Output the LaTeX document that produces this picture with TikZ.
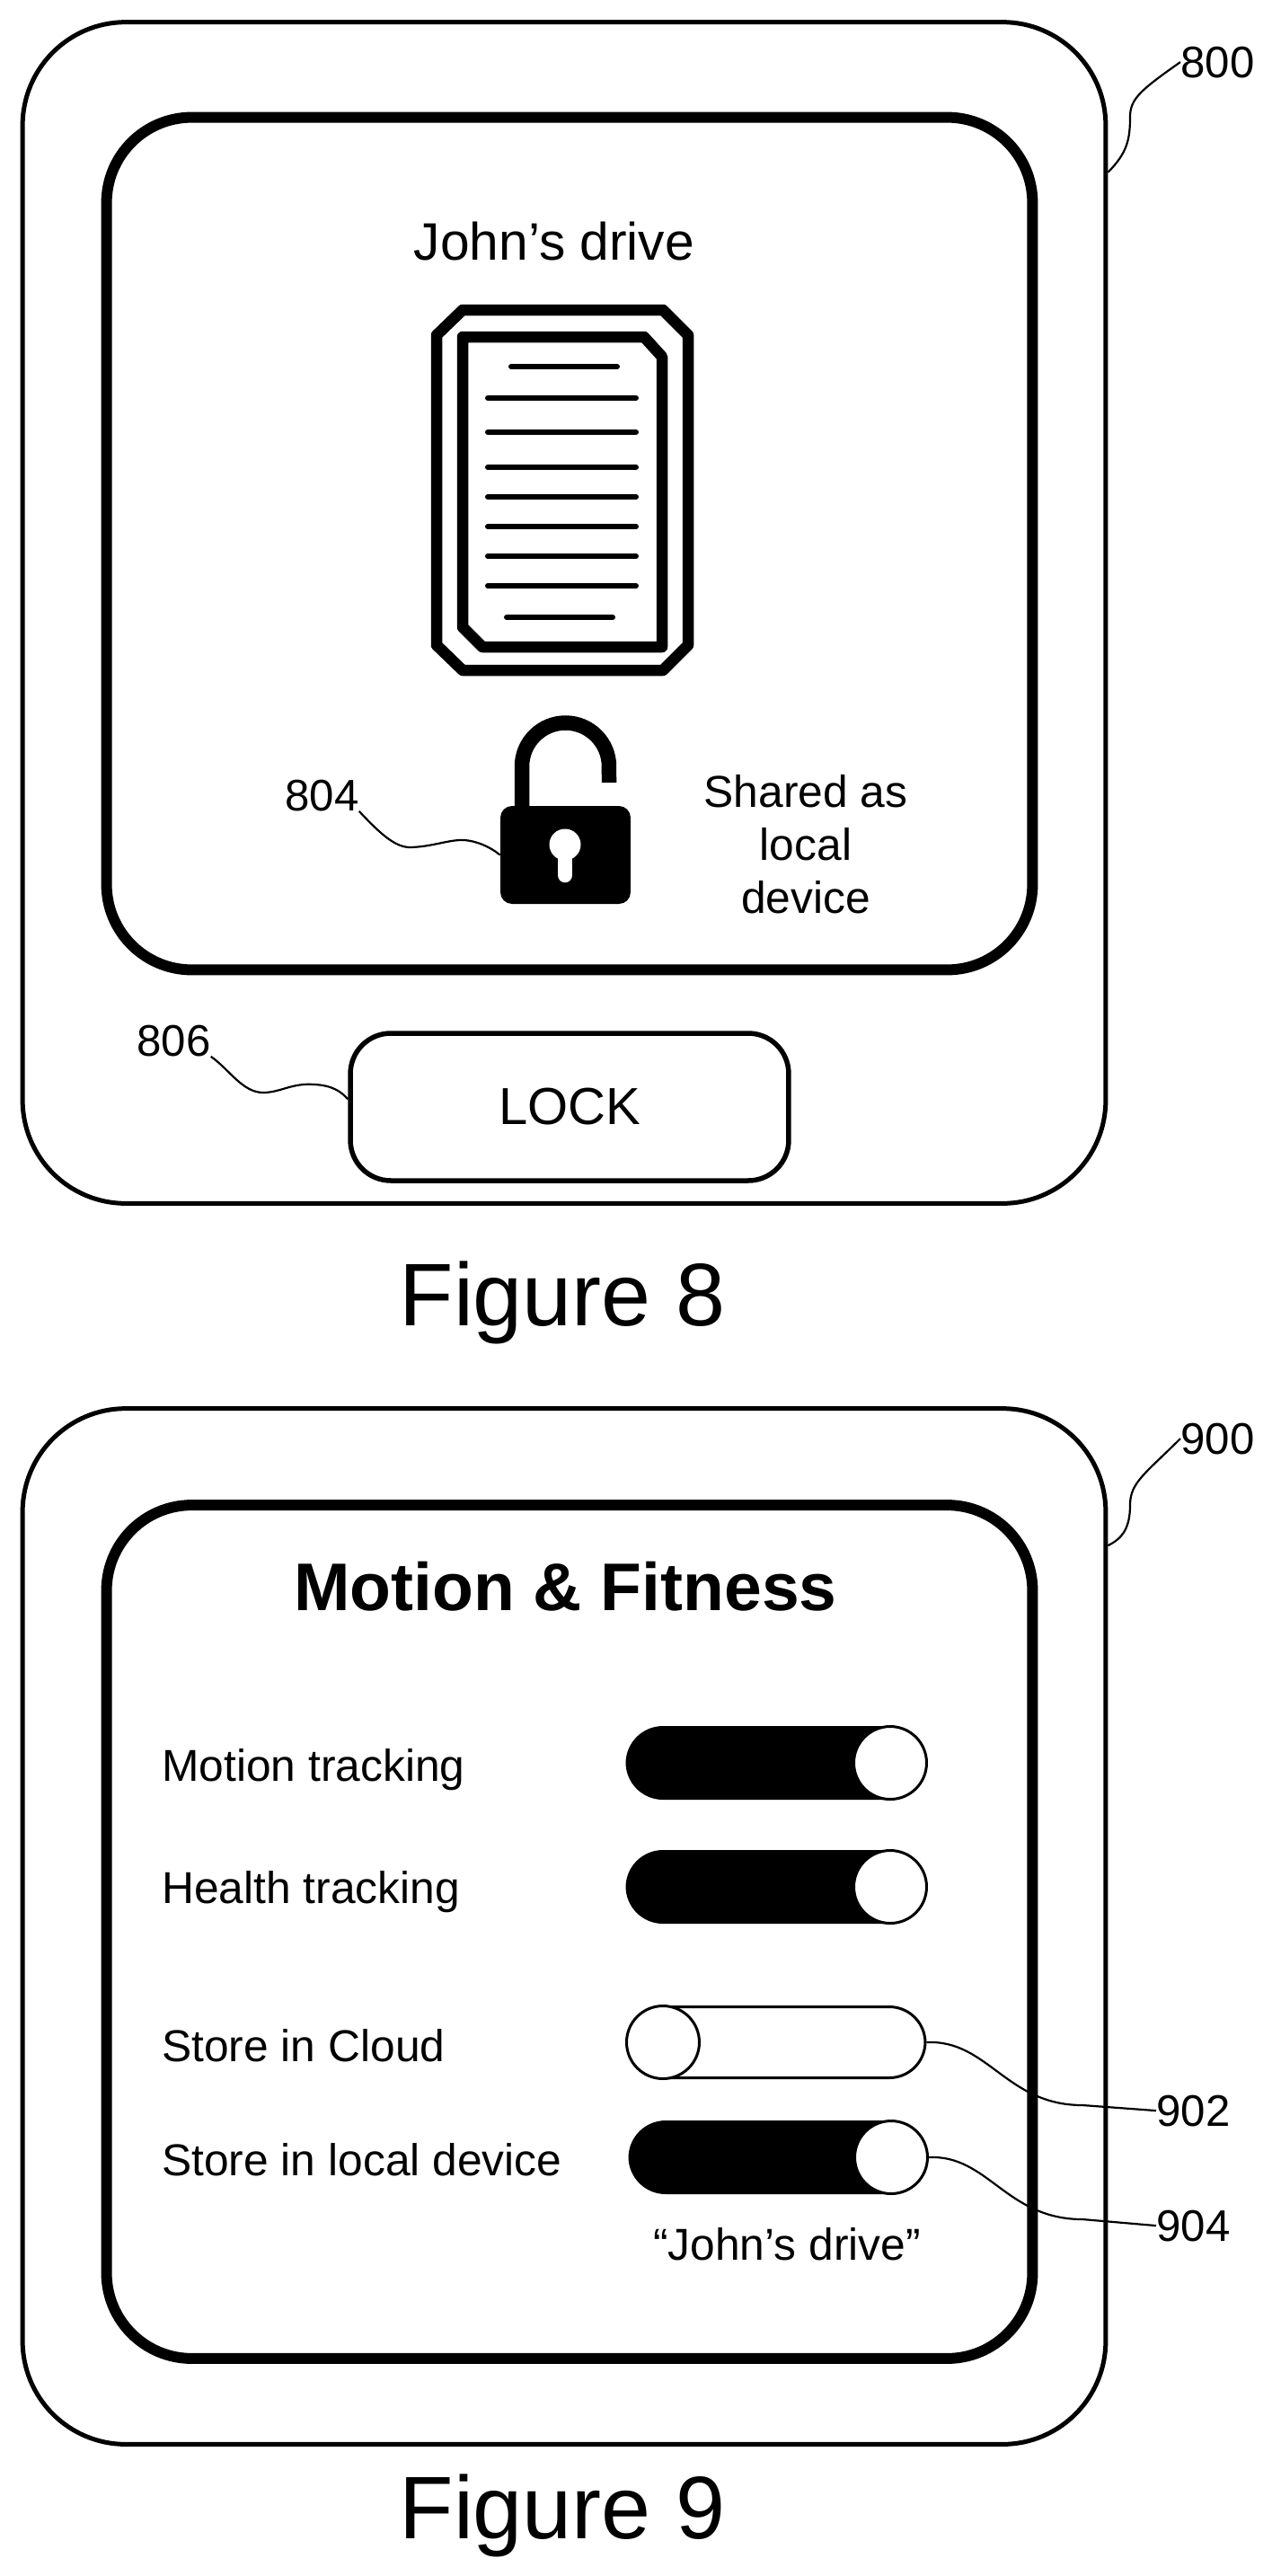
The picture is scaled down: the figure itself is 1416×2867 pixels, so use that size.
\documentclass[tikz,border=0pt]{standalone}
\usepackage{fontspec}
\setmainfont{Liberation Sans}
\usetikzlibrary{calc,positioning}

\tikzset{
  frame/.style={draw, line width=.1cm, rounded corners=2.3cm, minimum width=24.12cm},
  screen/.style={draw, line width=.24cm, rounded corners=1.9cm, minimum width=20.62cm},
  num/.style={font=\fontsize{28}{33}\selectfont, inner sep=0pt, anchor=base west},
  txt/.style={font=\fontsize{28.3}{33.7}\selectfont, inner sep=0pt, anchor=base west},
  big/.style={font=\fontsize{33.4}{40}\selectfont, inner sep=0pt, anchor=base},
  figlabel/.style={font=\fontsize{56.3}{60}\selectfont, inner sep=0pt, anchor=base},
  track/.style={draw, line width=.06cm, rounded corners=.8cm, minimum height=1.58cm},
  thumb/.style={circle, draw, fill=white, line width=.06cm, minimum size=1.62cm, inner sep=0pt},
  leader/.style={line width=.044cm},
  docline/.style={line width=.12cm, line cap=round}
}

\begin{document}
\begin{tikzpicture}[x=.02cm, y=-.02cm]
    \useasboundingbox (0,0) rectangle (1416,2867);

    % figure 8
    \node[frame, minimum height=26.3cm]   (frame8)  at (628,682) {};
    \node[screen, minimum height=18.98cm] (screen8) at (634,605) {};
    \node[big] (drive)  at (617,289)  {John’s drive};
    \node[txt, anchor=center, align=center] (shared) at (897,940) {Shared as\\local\\device};
    \node[draw, line width=.11cm, rounded corners=.9cm, minimum width=9.76cm, minimum height=3.28cm,
          font=\fontsize{33}{40}\selectfont] (lockbtn) at (634,1232) {LOCK};
    \node[figlabel] (fig8) at (626,1475) {Figure 8};

    % document icon
    \draw[line width=.25cm, line join=round] (486,373) -- (515,345) -- (738,345) -- (766,373)
        -- (766,718) -- (738,746) -- (515,746) -- (486,718) -- cycle;
    \draw[line width=.25cm, line join=round] (515,375) -- (717,375) -- (737,397)
        -- (737,720) -- (537,720) -- (515,698) -- cycle;
    \draw[docline] (569,408) -- (687,408);
    \foreach \y in {443,481,520,553,586,619,652}
        \draw[docline] (543,\y) -- (708,\y);
    \draw[docline] (564,687) -- (682,687);

    % lock
    \node[fill=black, rounded corners=.26cm, minimum width=2.9cm, minimum height=2.18cm] (lockbody) at (629.5,951.5) {};
    \draw[line width=.33cm] (581,900) -- (581,853) arc[start angle=180, end angle=0, radius=.97cm] -- (678,871);
    \fill[white] (629,940) circle[radius=.35cm];
    \draw[white, line width=.33cm, line cap=round] (629,945) -- (629,974);

    % figure 9
    \node[frame, minimum height=23.06cm]  (frame9)  at (628,2144) {};
    \node[screen, minimum height=19cm]    (screen9) at (634,2150) {};
    \node[font=\fontsize{42.7}{50}\bfseries\selectfont, inner sep=0pt, anchor=base] (title) at (629.5,1792) {Motion \& Fitness};

    \node[txt] (motion) at (180,1982) {Motion tracking};
    \node[txt] (health) at (180,2118) {Health tracking};
    \node[txt] (cloud)  at (180,2294) {Store in Cloud};
    \node[txt] (local)  at (180,2421) {Store in local device};
    \node[txt, anchor=base] (quoted) at (876,2515) {“John’s drive”};

    \node[track, fill=black, minimum width=6.64cm] (track1) at (864,1962) {};
    \node[thumb] (thumb1) at (991,1962) {};
    \node[track, fill=black, minimum width=6.64cm] (track2) at (864,2100) {};
    \node[thumb] (thumb2) at (991,2100) {};
    \node[track, minimum width=6.64cm] (track3) at (864,2273) {};
    \node[thumb] (thumb3) at (738,2273) {};
    \node[track, fill=black, minimum width=6.6cm] (track4) at (866,2401) {};
    \node[thumb] (thumb4) at (992,2401) {};

    \node[figlabel] (fig9) at (626,2825) {Figure 9};

    % reference numerals
    \node[num] (n800) at (1314,86)   {800};
    \node[num] (n804) at (317,902)   {804};
    \node[num] (n806) at (152,1175)  {806};
    \node[num] (n900) at (1314,1618) {900};
    \node[num] (n902) at (1287,2366) {902};
    \node[num] (n904) at (1287,2494) {904};

    \draw[leader] (n800.west) .. controls (1270,100) and (1258,110) .. (1258,130)
        .. controls (1258,155) and (1255,170) .. (frame8.39.9);
    \draw[leader] (n804.south east) .. controls (425,930) and (440,942) .. (455,943)
        .. controls (480,943) and (500,934) .. (517,935) .. controls (530,936) and (545,942) .. (lockbody.west);
    \draw[leader] (n806.south east) .. controls (255,1190) and (270,1216) .. (293,1216)
        .. controls (312,1216) and (325,1205) .. (350,1207) .. controls (370,1208) and (380,1215) .. (lockbtn.178);
    \draw[leader] (n900.west) .. controls (1275,1640) and (1258,1650) .. (1258,1675)
        .. controls (1258,1700) and (1250,1712) .. (frame9.35);
    \draw[leader] (track3.east) .. controls (1100,2270) and (1120,2343) .. (1205,2343) -- (n902.west);
    \draw[leader] (thumb4.east) .. controls (1100,2398) and (1120,2470) .. (1205,2470) -- (n904.west);
\end{tikzpicture}
\end{document}
